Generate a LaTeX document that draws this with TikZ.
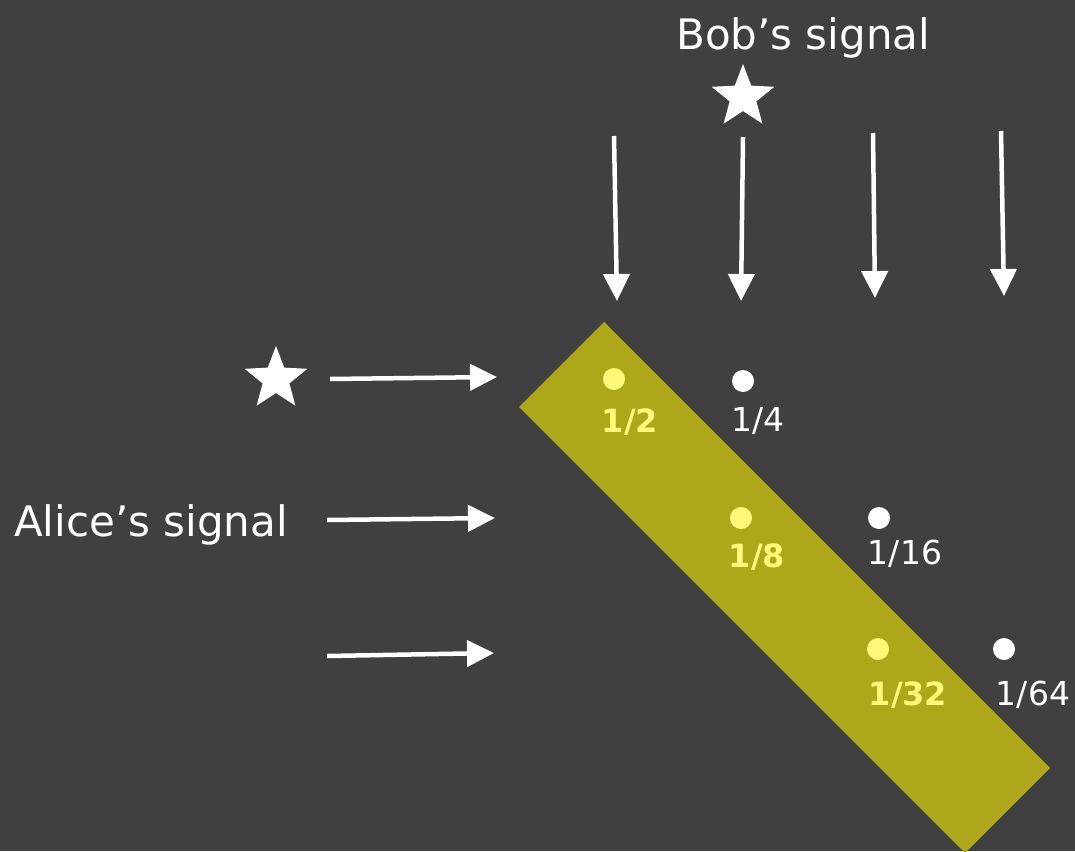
\documentclass[tikz,border=0pt]{standalone}
\usepackage{fontspec}
\setmainfont{DejaVu Sans}
\usetikzlibrary{arrows.meta,shapes.geometric}
\definecolor{bg}{RGB}{64,64,64}
\definecolor{band}{RGB}{173,167,27}
\definecolor{lightyel}{RGB}{255,249,122}
\tikzset{
  sig/.style={draw=white, line width=4.5pt, -{Triangle[length=27pt,width=26pt]}},
  bigstar/.style={star, star points=5, star point ratio=2.35, minimum size=66pt, inner sep=0pt, fill=white},
  wdot/.style={circle, fill=white, minimum size=22pt, inner sep=0pt},
  ydot/.style={circle, fill=lightyel, minimum size=22pt, inner sep=0pt},
  wlab/.style={text=white, font=\fontsize{33}{36}\selectfont, anchor=base, inner sep=0pt},
  ylab/.style={text=lightyel, font=\fontsize{32}{36}\selectfont\bfseries, anchor=base, inner sep=0pt},
  title/.style={text=white, font=\fontsize{42}{48}\selectfont, anchor=base west, inner sep=0pt}
}
\begin{document}
\begin{tikzpicture}[x=1pt,y=-1pt]
\fill[bg] (0,0) rectangle (1075,851);
\useasboundingbox (0,0) rectangle (1075,851);
% band
\fill[band] (604,322) -- (1050,768) -- (965,853) -- (519,407) -- cycle;
% titles
\node[title] (bob) at (676,49) {Bob’s signal};
\node[title] (alice) at (14,536) {Alice’s signal};
% stars
\node[bigstar] (stop) at (743,97) {};
\node[bigstar] (sleft) at (276,379) {};
% vertical arrows
\coordinate (v1s) at (614,136); \coordinate (v1e) at (617,301);
\coordinate (v2s) at (743,137); \coordinate (v2e) at (741,301);
\coordinate (v3s) at (873,133); \coordinate (v3e) at (875,298);
\coordinate (v4s) at (1001,131); \coordinate (v4e) at (1004,296);
\draw[sig] (v1s) -- (v1e);
\draw[sig] (v2s) -- (v2e);
\draw[sig] (v3s) -- (v3e);
\draw[sig] (v4s) -- (v4e);
% horizontal arrows
\coordinate (h1s) at (330,379); \coordinate (h1e) at (497,377);
\coordinate (h2s) at (327,520); \coordinate (h2e) at (495,518);
\coordinate (h3s) at (327,656); \coordinate (h3e) at (494,653);
\draw[sig] (h1s) -- (h1e);
\draw[sig] (h2s) -- (h2e);
\draw[sig] (h3s) -- (h3e);
% dots
\node[ydot] (y1) at (614,379) {};
\node[wdot] (w1) at (743,381) {};
\node[ydot] (y2) at (741,518) {};
\node[wdot] (w2) at (879,518) {};
\node[ydot] (y3) at (878,649) {};
\node[wdot] (w3) at (1004,649) {};
% labels
\node[ylab] (l12) at (630,432) {1/2};
\node[wlab] (l14) at (758,431) {1/4};
\node[ylab] (l18) at (757,567) {1/8};
\node[wlab] (l116) at (905,564) {1/16};
\node[ylab] (l132) at (908,705) {1/32};
\node[wlab] (l164) at (1033,705) {1/64};
\end{tikzpicture}
\end{document}
